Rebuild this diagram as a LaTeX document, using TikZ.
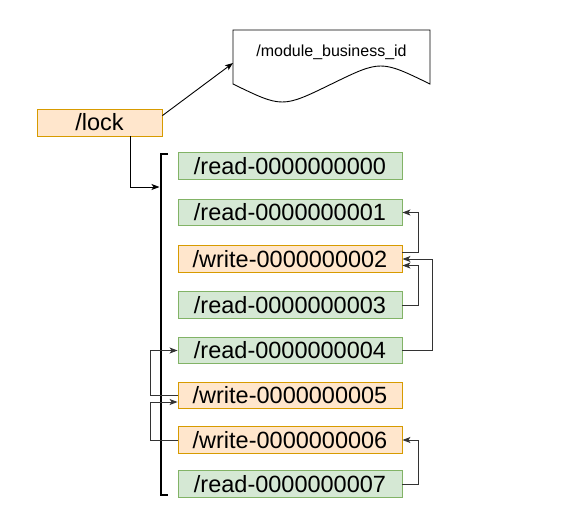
\documentclass[tikz,border=0pt]{standalone}
\usepackage{fontspec}
\setmainfont{Liberation Sans}
\usetikzlibrary{arrows.meta,calc}
\definecolor{ofill}{HTML}{FFE6CC}
\definecolor{odraw}{HTML}{D79B00}
\definecolor{gfill}{HTML}{D5E8D4}
\definecolor{gdraw}{HTML}{82B366}
\tikzset{
  zbox/.style={rectangle, inner sep=0pt, minimum width=224pt, minimum height=26.5pt,
    font=\fontsize{23.5}{28}\selectfont, text height=16.8pt, text depth=0pt, line width=0.9pt},
  rbox/.style={zbox, fill=gfill, draw=gdraw},
  wbox/.style={zbox, fill=ofill, draw=odraw},
  conn/.style={draw=black!80, line width=0.9pt, -{Stealth[length=8pt,width=6pt,inset=2pt]}},
  arr/.style={draw=black, line width=0.9pt, -{Stealth[length=8pt,width=6pt,inset=2pt]}},
}
\begin{document}
\begin{tikzpicture}[x=1pt,y=-1pt]
\useasboundingbox (0,0) rectangle (587,528);
% document shape
\draw[line width=0.9pt, fill=white] (233,30) -- (430,30) -- (430,84)
  .. controls (380.75,60) .. (331.5,84)
  .. controls (282.25,108) .. (233,84) -- cycle;
\node[font=\fontsize{16}{19}\selectfont, inner sep=0pt, text height=11.5pt, text depth=0pt] (doc) at (331.5,51) {/module\_business\_id};
\coordinate (docL) at (233,63);
% lock
\node[wbox, minimum width=125pt, minimum height=27pt] (lock) at (99.5,122.5) {/lock};
% boxes
\node[rbox] (r0) at (290,166) {/read-0000000000};
\node[rbox] (r1) at (290,212.5) {/read-0000000001};
\node[wbox] (w2) at (290,259) {/write-0000000002};
\node[rbox] (r3) at (290,305) {/read-0000000003};
\node[rbox] (r4) at (290,350.5) {/read-0000000004};
\node[wbox] (w5) at (290,395.5) {/write-0000000005};
\node[wbox] (w6) at (290,440) {/write-0000000006};
\node[rbox] (r7) at (290,484) {/read-0000000007};
% bracket
\coordinate (bt) at (168,154);
\coordinate (bb) at (168,495);
\draw[line width=1.6pt] (bt) -- (161,154) -- (161,495) -- (bb);
\coordinate (brkin) at (159.5,187);
% lock connectors
\draw[arr] ($(lock.north east)+(0,7)$) -- (docL);
\draw[arr] ($(lock.south east)+(-32,0)$) |- (brkin);
% right loops
\draw[conn] ($(w2.east)+(0,-6.5)$) -- ++(16,0) |- (r1.east);
\draw[conn] (r3.east) -- ++(16,0) |- ($(w2.east)+(0,6.5)$);
\draw[conn] (r4.east) -- ++(30,0) |- (w2.east);
\draw[conn] (r7.east) -- ++(16,0) |- (w6.east);
% left loops
\draw[conn] (w5.west) -- ++(-27,0) |- (r4.west);
\draw[conn] (w6.west) -- ++(-27,0) |- ($(w5.west)+(0,6.5)$);
\end{tikzpicture}
\end{document}
